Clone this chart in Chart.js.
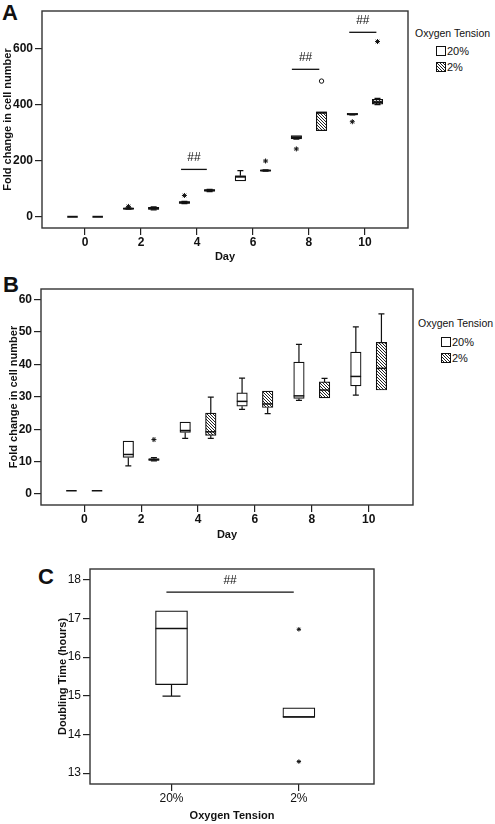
<!DOCTYPE html>
<html>
<head>
<meta charset="utf-8">
<script src="https://cdn.jsdelivr.net/npm/chart.js@4.4.0/dist/chart.umd.min.js"></script>
<style>
  body { margin: 0; width: 495px; height: 824px; position: relative; background: #fff; overflow: hidden;
         font-family: "Liberation Sans", Arial, sans-serif; color: #111; }
  canvas { position: absolute; }
  .letter { position: absolute; font-weight: bold; font-size: 22px; line-height: 1; }
  .lgTitle { position: absolute; font-size: 10.5px; line-height: 12px; white-space: nowrap; }
  .lgRow { position: absolute; font-size: 11px; line-height: 11px; white-space: nowrap; }
  .sw { display: inline-block; width: 8px; height: 8px; border: 1px solid #111; vertical-align: -1px; margin-right: 1px; background: #fff; }
</style>
</head>
<body>
<div class="letter" style="left:2px;top:2px">A</div>
<div class="letter" style="left:3px;top:274px">B</div>
<div class="letter" style="left:38px;top:566px">C</div>

<div class="lgTitle" style="left:415px;top:27px">Oxygen Tension</div>
<div class="lgRow" style="left:436px;top:46px"><span class="sw"></span>20%</div>
<div class="lgRow" style="left:436px;top:62px"><span class="sw hatch"></span>2%</div>

<div class="lgTitle" style="left:418px;top:317px">Oxygen Tension</div>
<div class="lgRow" style="left:441px;top:337px"><span class="sw"></span>20%</div>
<div class="lgRow" style="left:441px;top:353px"><span class="sw hatch"></span>2%</div>

<canvas id="chartA" width="495" height="270" style="left:0;top:0"></canvas>
<canvas id="chartB" width="495" height="280" style="left:0;top:270px"></canvas>
<canvas id="chartC" width="445" height="274" style="left:50px;top:550px"></canvas>

<script>
// ---- data ----
const days = [0, 2, 4, 6, 8, 10];
const groups = ["20%", "2%"];

// panel A, fold change; each row is [min, q1, median, q3, max]
const foldA20 = [[1, 1, 1, 1, 1], [28, 29, 30, 31, 33], [48, 49, 52, 55, 56],
                 [129, 129, 144, 147, 166], [278, 279, 285, 291, 291], [364, 365, 367, 370, 370]];
const foldA2 = [[1, 1, 1, 1, 1], [26, 27, 31, 35, 36], [91, 92, 95, 98, 99],
                [164, 165, 166, 167, 168], [308, 308, 372, 375, 375], [401, 403, 410, 420, 423]];
const starA20Day = [2, 4, 8, 10];
const starA20Val = [38, 77, 243, 340];
const starA2Day = [6, 10];
const starA2Val = [200, 626];
const circleA2Day = [8];
const circleA2Val = [485];
const sigAFrom = [3.43, 7.39, 9.44];
const sigATo = [4.35, 8.37, 10.41];
const sigAVal = [170, 527, 659];

// panel B, fold change
const foldB20 = [[1, 1, 1, 1, 1], [8.7, 11.3, 12.2, 16.3, 16.3], [17.2, 19.0, 19.6, 22.2, 22.2],
                 [26.1, 27.1, 28.6, 31.2, 35.8], [28.9, 29.5, 30.3, 40.7, 46.2], [30.5, 33.4, 36.3, 43.8, 51.6]];
const foldB2 = [[1, 1, 1, 1, 1], [10.2, 10.4, 10.6, 10.9, 11.2], [17.2, 18.1, 19.2, 25.0, 29.9],
                [24.8, 26.7, 27.8, 31.8, 31.8], [29.7, 29.7, 32.1, 34.6, 35.7], [32.1, 32.1, 38.8, 46.8, 55.6]];
const starB2Day = [2];
const starB2Val = [16.8];

// panel C, doubling time (hours)
const doubling20 = [14.99, 15.29, 16.74, 17.2, 17.2];
const doubling2 = [14.45, 14.45, 14.45, 14.69, 14.69];
const starC2Val = [16.72, 13.3];
const sigCFrom = [0.96];
const sigCTo = [1.96];
const sigCVal = [17.68];

const dayTicks = [0, 2, 4, 6, 8, 10];
const foldTicksA = [0, 200, 400, 600];
const foldTicksB = [0, 10, 20, 30, 40, 50, 60];
const hourTicks = [13, 14, 15, 16, 17, 18];

// ---- styles ----
const FONT = "'Liberation Sans', Arial, sans-serif";
const INK = "#111";

// dense diagonal hatch for the 2% group
const tile = document.createElement("canvas");
tile.width = tile.height = 3;
const tg = tile.getContext("2d");
tg.fillStyle = "#fff";
tg.fillRect(0, 0, 3, 3);
tg.fillStyle = "#222";
for (let i = 0; i < 3; i++) tg.fillRect(i, i, 1, 1);
const hatch = tg.createPattern(tile, "repeat");
document.querySelectorAll(".hatch").forEach(el => { el.style.backgroundImage = "url(" + tile.toDataURL() + ")"; });

// whiskers, medians, frame and ## bars, all placed with the chart scales
const boxPlugin = {
  id: "boxplot",
  afterDatasetsDraw(chart, args, opts) {
    const ctx = chart.ctx, y = chart.scales.y;
    ctx.save();
    ctx.strokeStyle = INK;
    chart.data.datasets.forEach((ds, di) => {
      if (!ds.stats) return;
      chart.getDatasetMeta(di).data.forEach((bar, i) => {
        const s = ds.stats[i];
        const cx = bar.x, w = bar.width, c = opts.cap / 2;
        const p = s.map(v => y.getPixelForValue(v));
        ctx.lineWidth = 1.2;
        ctx.beginPath();
        if (s[4] > s[3]) {
          ctx.moveTo(cx, p[3]); ctx.lineTo(cx, p[4]);
          ctx.moveTo(cx - c, p[4]); ctx.lineTo(cx + c, p[4]);
        }
        if (s[0] < s[1]) {
          ctx.moveTo(cx, p[1]); ctx.lineTo(cx, p[0]);
          ctx.moveTo(cx - c, p[0]); ctx.lineTo(cx + c, p[0]);
        }
        ctx.stroke();
        ctx.lineWidth = opts.median;
        ctx.beginPath();
        ctx.moveTo(cx - w / 2, p[2]); ctx.lineTo(cx + w / 2, p[2]);
        ctx.stroke();
      });
    });
    ctx.restore();
  },
  afterDraw(chart, args, opts) {
    const ctx = chart.ctx, a = chart.chartArea, x = chart.scales.x, y = chart.scales.y;
    ctx.save();
    ctx.strokeStyle = "#333";
    ctx.lineWidth = 1.4;
    ctx.strokeRect(a.left, a.top, a.right - a.left, a.bottom - a.top);
    const sig = opts.sig;
    if (sig) {
      ctx.strokeStyle = INK;
      ctx.fillStyle = INK;
      ctx.lineWidth = 1.3;
      ctx.font = "12px " + FONT;
      ctx.textAlign = "center";
      ctx.textBaseline = "bottom";
      sig.from.forEach((f, i) => {
        const x0 = x.getPixelForValue(f), x1 = x.getPixelForValue(sig.to[i]);
        const py = y.getPixelForValue(sig.val[i]);
        ctx.beginPath(); ctx.moveTo(x0, py); ctx.lineTo(x1, py); ctx.stroke();
        ctx.fillText("##", (x0 + x1) / 2, py - 6);
      });
    }
    ctx.restore();
  }
};

function boxSet(label, xs, stats, shift, fill, thick) {
  return {
    type: "bar", label, stats,
    data: xs.map((d, i) => ({ x: d + shift, y: [stats[i][1], stats[i][3]] })),
    backgroundColor: fill, borderColor: INK, borderWidth: 1.2, borderSkipped: false,
    barThickness: thick, grouped: false, order: 2
  };
}

function pointSet(xs, vals, style, r) {
  return {
    type: "scatter",
    data: xs.map((d, i) => ({ x: d, y: vals[i] })),
    pointStyle: style, radius: r, borderColor: INK, borderWidth: 1,
    backgroundColor: style === "circle" ? "#fff" : INK, order: 1
  };
}

function axes(o) {
  const tickFont = { family: FONT, size: o.tickSize, weight: o.tickWeight };
  const titleFont = { family: FONT, size: 11, weight: "bold" };
  return {
    x: {
      type: "linear", min: o.xMin, max: o.xMax, offset: false,
      afterFit: s => { s.height = o.xH; },
      afterBuildTicks: s => { s.ticks = o.xTicks.map(v => ({ value: v })); },
      grid: { drawOnChartArea: false, offset: false, tickLength: 7, color: "#222", lineWidth: 1.2 },
      border: { display: false },
      ticks: { font: tickFont, color: INK, padding: 0, maxRotation: 0, autoSkip: false, callback: o.xLabel },
      title: { display: true, text: o.xTitle, font: titleFont, color: INK, padding: { top: 0, bottom: o.xTitlePad } }
    },
    y: {
      type: "linear", min: o.yMin, max: o.yMax,
      afterFit: s => { s.width = o.yW; },
      afterBuildTicks: s => { s.ticks = o.yTicks.map(v => ({ value: v })); },
      grid: { drawOnChartArea: false, tickLength: 7, color: "#222", lineWidth: 1.2 },
      border: { display: false },
      ticks: { font: tickFont, color: INK, padding: 2 },
      title: { display: true, text: o.yTitle, font: titleFont, color: INK, padding: { top: o.yTitlePad, bottom: 0 } }
    }
  };
}

function draw(id, datasets, pad, scales, box) {
  new Chart(document.getElementById(id), {
    type: "bar",
    data: { datasets },
    options: {
      responsive: false, animation: false, events: [],
      layout: { padding: pad },
      plugins: { legend: { display: false }, tooltip: { enabled: false }, boxplot: box },
      scales
    },
    plugins: [boxPlugin]
  });
}

const shift = 0.45;
const shifted = (xs, d) => xs.map(v => v + d);

// ---- panel A ----
draw("chartA", [
  boxSet(groups[0], days, foldA20, -shift, "#fff", 10.5),
  boxSet(groups[1], days, foldA2, shift, hatch, 10.5),
  pointSet(shifted(starA20Day, -shift), starA20Val, "star", 2.5),
  pointSet(shifted(starA2Day, shift), starA2Val, "star", 2.5),
  pointSet(shifted(circleA2Day, shift), circleA2Val, "circle", 2.2)
], { top: 11, right: 87, left: 0, bottom: 0 }, axes({
  xMin: -1.54, xMax: 11.54, xH: 42, xTicks: dayTicks, xTitle: "Day", xTitlePad: 6,
  yMin: -39, yMax: 735, yW: 42, yTicks: foldTicksA, yTitle: "Fold change in cell number", yTitlePad: 1,
  tickSize: 12, tickWeight: "bold"
}), { cap: 6, median: 2, sig: { from: sigAFrom, to: sigATo, val: sigAVal } });

// ---- panel B ----
draw("chartB", [
  boxSet(groups[0], days, foldB20, -shift, "#fff", 10.5),
  boxSet(groups[1], days, foldB2, shift, hatch, 10.5),
  pointSet(shifted(starB2Day, shift), starB2Val, "star", 2.5)
], { top: 19, right: 82, left: 0, bottom: 0 }, axes({
  xMin: -1.52, xMax: 11.56, xH: 45, xTicks: dayTicks, xTitle: "Day", xTitlePad: 8,
  yMin: -3.4, yMax: 63.3, yW: 41, yTicks: foldTicksB, yTitle: "Fold change in cell number", yTitlePad: 7,
  tickSize: 12, tickWeight: "bold"
}), { cap: 6, median: 1.5 });

// ---- panel C ----
draw("chartC", [
  boxSet(groups[0], [1], [doubling20], 0, "#fff", 32),
  boxSet(groups[1], [2], [doubling2], 0, "#fff", 32),
  pointSet([2, 2], starC2Val, "star", 2.2)
], { top: 19, right: 121, left: 0, bottom: 0 }, axes({
  xMin: 0.36, xMax: 2.59, xH: 40, xTicks: [1, 2], xTitle: "Oxygen Tension", xTitlePad: 1,
  xLabel: v => groups[v - 1],
  yMin: 12.72, yMax: 18.28, yW: 40, yTicks: hourTicks, yTitle: "Doubling Time (hours)", yTitlePad: 6,
  tickSize: 12, tickWeight: "normal"
}), { cap: 18, median: 1.5, sig: { from: sigCFrom, to: sigCTo, val: sigCVal } });
</script>
</body>
</html>
